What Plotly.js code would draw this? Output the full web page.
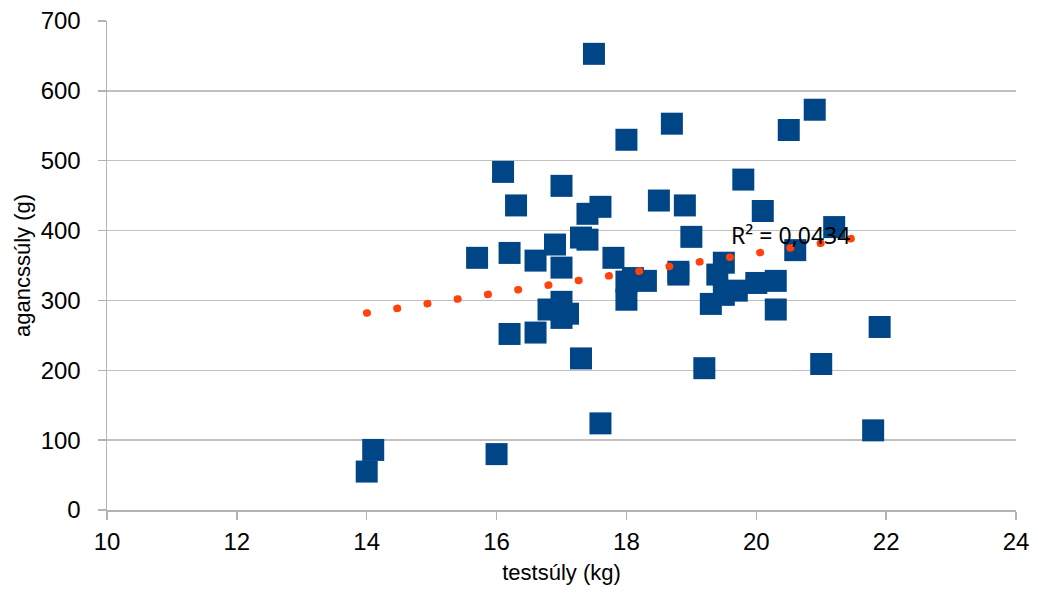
<!DOCTYPE html>
<html>
<head>
<meta charset="utf-8">
<script src="https://cdn.plot.ly/plotly-3.0.1.min.js"></script>
<style>
html, body { margin: 0; padding: 0; background: #fff; }
#chart { width: 1038px; height: 599px; }
.scatterlayer .trace .js-line { stroke-linecap: round; }
</style>
</head>
<body>
<div id="chart"></div>
<script>
// testsúly (kg)
var bodyWeight = [14.0, 14.1, 16.0, 17.6, 21.8, 19.2, 21.0, 17.3, 16.2, 16.6,
                  21.9, 16.8, 17.0, 17.1, 17.0, 18.0, 19.3, 20.3, 19.5, 19.7,
                  20.0, 20.3, 18.0, 18.1, 18.3, 18.8, 18.8, 19.4, 19.5, 17.0,
                  15.7, 16.2, 16.6, 17.8, 16.9, 17.3, 17.4, 19.0, 20.6, 21.2,
                  20.1, 17.4, 17.6, 16.3, 18.5, 18.9, 19.8, 17.0, 16.1, 18.0,
                  18.7, 20.5, 20.9, 17.5];
// agancssúly (g)
var antlerWeight = [55, 86, 80, 124, 114, 203, 209, 217, 252, 254,
                    262, 287, 298, 281, 275, 301, 295, 287, 308, 314,
                    325, 328, 327, 332, 328, 341, 337, 337, 354, 347,
                    361, 368, 357, 361, 380, 390, 387, 391, 372, 405,
                    428, 424, 434, 436, 443, 436, 473, 464, 484, 530,
                    553, 544, 573, 653];
// linear trendline endpoints
var trendX = [14.0, 21.46];
var trendY = [282, 388.5];
var r2Label = 'R² = 0,0434';
var xTicks = [10, 12, 14, 16, 18, 20, 22, 24];
var yTicks = [0, 100, 200, 300, 400, 500, 600, 700];

var data = [
  {
    type: 'scatter', mode: 'markers',
    x: bodyWeight, y: antlerWeight,
    marker: { symbol: 'square', size: 22, color: '#004586', line: { width: 0 } },
    hoverinfo: 'x+y', showlegend: false
  },
  {
    type: 'scatter', mode: 'lines',
    x: trendX, y: trendY,
    line: { color: '#ff420e', width: 7.5, dash: '0.5px,30.1px' },
    hoverinfo: 'skip', showlegend: false
  }
];

var axisFont = { family: 'Liberation Sans, Arial, sans-serif', size: 24, color: '#000' };
var titleFont = { family: 'Liberation Sans, Arial, sans-serif', size: 22, color: '#000' };

var layout = {
  width: 1038, height: 599,
  margin: { l: 107, r: 22, t: 21, b: 89 },
  paper_bgcolor: '#ffffff', plot_bgcolor: '#ffffff',
  showlegend: false,
  xaxis: {
    range: [10, 24], tickvals: xTicks, ticktext: xTicks.map(String),
    showgrid: false, zeroline: false,
    showline: true, linecolor: '#b3b3b3', linewidth: 1.5,
    ticks: 'outside', ticklen: 8, tickcolor: '#b3b3b3', tickwidth: 1.5,
    tickfont: axisFont, ticklabelstandoff: 2,
    title: { text: 'testsúly (kg)', font: titleFont, standoff: 10 }
  },
  yaxis: {
    range: [0, 700], tickvals: yTicks, ticktext: yTicks.map(String),
    showgrid: true, gridcolor: '#c0c0c0', gridwidth: 1.5,
    zeroline: false,
    showline: true, linecolor: '#b3b3b3', linewidth: 1.5,
    ticks: 'outside', ticklen: 8, tickcolor: '#b3b3b3', tickwidth: 1.5,
    tickfont: axisFont, ticklabelstandoff: 12,
    title: { text: 'agancssúly (g)', font: titleFont, standoff: 4 }
  },
  annotations: [
    {
      x: 19.58, y: 393, xref: 'x', yref: 'y',
      xanchor: 'left', yanchor: 'middle',
      text: r2Label, showarrow: false,
      font: { family: 'Noto Sans, DejaVu Sans, sans-serif', size: 23, color: '#000' }
    }
  ]
};

Plotly.newPlot('chart', data, layout, { displayModeBar: false, staticPlot: true });
</script>
</body>
</html>
